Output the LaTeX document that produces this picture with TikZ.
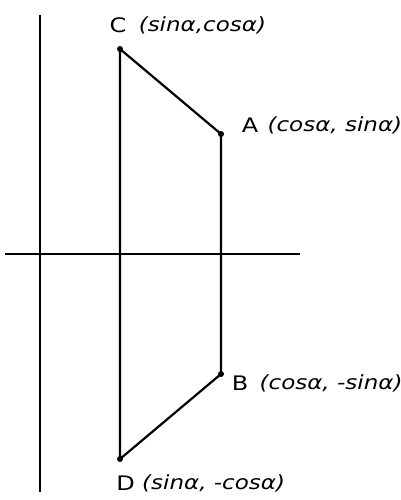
\documentclass[tikz,border=0pt]{standalone}
\usepackage{fontspec}
\setmainfont{DejaVu Sans}
\newfontfamily\labelfont[FakeStretch=1.2]{DejaVu Sans}
\newfontfamily\coordfont[FakeStretch=1.18]{DejaVu Sans}
\usetikzlibrary{positioning}

\tikzset{
  vertex/.style={circle, fill=black, inner sep=0pt, minimum size=6pt},
  letter/.style={inner sep=0pt, font=\fontsize{20}{23}\labelfont},
  coord/.style={inner sep=0pt, font=\fontsize{19.5}{22}\coordfont\itshape},
  axis/.style={line width=1.6pt},
  edge/.style={line width=2.2pt}
}

\begin{document}
\begin{tikzpicture}[x=1pt, y=-1pt]
\useasboundingbox (0,0) rectangle (401,500);
% axes
\coordinate (ytop) at (40,15);
\coordinate (ybot) at (40,492);
\coordinate (xleft) at (5,254);
\coordinate (xright) at (300,254);
\draw [axis] (ytop) -- (ybot);
\draw [axis] (xleft) -- (xright);
% vertices
\node (C) [vertex] at (120,49) {};
\node (A) [vertex] at (221,134) {};
\node (B) [vertex] at (221,374) {};
\node (D) [vertex] at (120,459) {};
\draw [edge] (C.center) -- (A.center) -- (B.center) -- (D.center) -- cycle;
% labels
\node (lC) [letter] at (118,25) {C};
\node (cC) [coord, right=12pt of lC] {(sinα,cosα)};
\node (lA) [letter] at (250,125) {A};
\node (cA) [coord, right=9pt of lA] {(cosα, sinα)};
\node (lB) [letter] at (240,383) {B};
\node (cB) [coord, right=11pt of lB] {(cosα, -sinα)};
\node (lD) [letter] at (125.5,483) {D};
\node (cD) [coord, right=7pt of lD] {(sinα, -cosα)};
\end{tikzpicture}
\end{document}
